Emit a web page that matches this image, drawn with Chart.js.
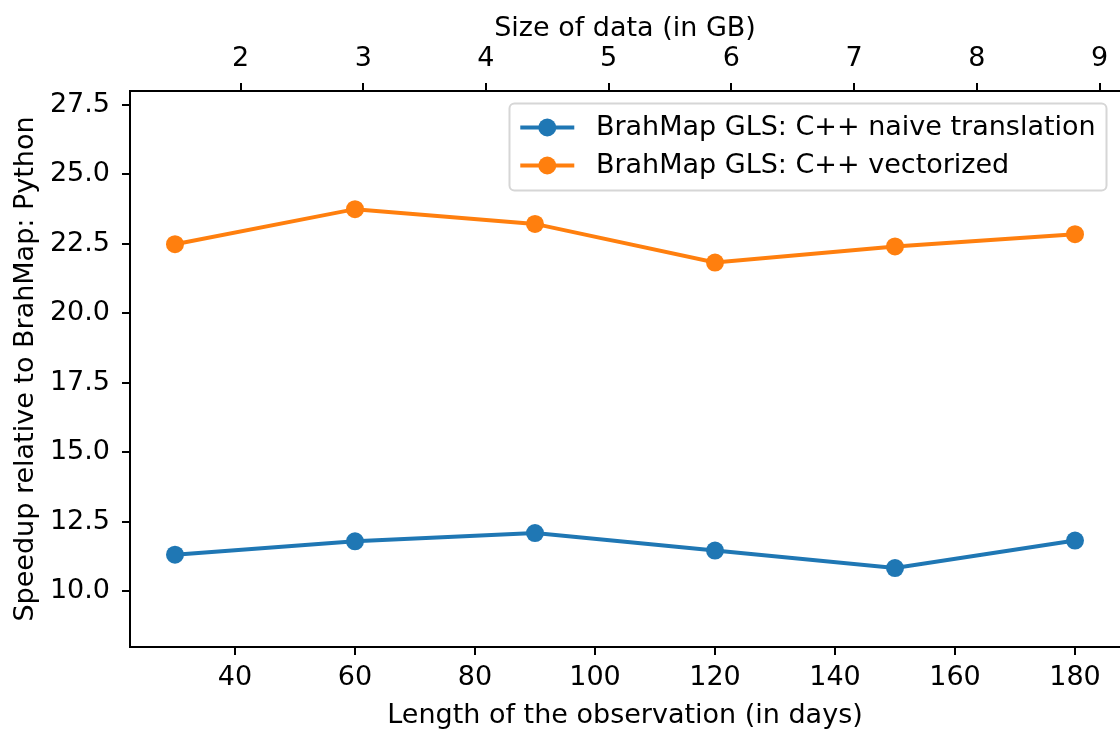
<!DOCTYPE html>
<html>
<head>
<meta charset="utf-8">
<script src="https://cdn.jsdelivr.net/npm/chart.js@4.4.1/dist/chart.umd.min.js"></script>
<style>
  html, body { margin: 0; padding: 0; background: #fff; }
  #wrap { width: 1120px; height: 729px; }
</style>
</head>
<body>
<div id="wrap"><canvas id="speedupChart" width="1120" height="729"></canvas></div>
<script>
// observation length (days) and matching data size (GB)
var days = [30, 60, 90, 120, 150, 180];
var gbSize = [1.466, 2.933, 4.4, 5.866, 7.333, 8.8];
var naiveSpeedup = [11.32, 11.80, 12.10, 11.47, 10.84, 11.83];
var vectorSpeedup = [22.49, 23.75, 23.22, 21.83, 22.41, 22.85];

var dayTicks = [40, 60, 80, 100, 120, 140, 160, 180];
var gbTicks = [2, 3, 4, 5, 6, 7, 8, 9];
var speedTicks = [10, 12.5, 15, 17.5, 20, 22.5, 25, 27.5];

var labels = ['BrahMap GLS: C++ naive translation', 'BrahMap GLS: C++ vectorized'];
var colors = ['#1f77b4', '#ff7f0e'];

var FONT = 'DejaVu Sans';

// matplotlib style 5% margins
function padRange(arr) {
    var lo = Math.min.apply(null, arr), hi = Math.max.apply(null, arr);
    var m = (hi - lo) * 0.05;
    return [lo - m, hi + m];
}
var dayRange = padRange(days);
var gbRange = padRange(gbSize);

function pairs(ys) {
    return days.map(function (d, i) { return {x: d, y: ys[i]}; });
}

function fixTicks(list) {
    return function (scale) {
        scale.ticks = list.map(function (v) { return {value: v}; });
    };
}

// force axis thickness and drop the label overflow padding
function fixSize(prop, size) {
    return function (s) {
        s[prop] = size;
        s.paddingLeft = 0; s.paddingRight = 0;
        s.paddingTop = 0; s.paddingBottom = 0;
    };
}

// legend drawn like matplotlib's, upper right inside the axes
var boxLegend = {
    id: 'boxLegend',
    afterDraw: function (chart) {
        var ctx = chart.ctx, area = chart.chartArea;
        var fs = 27;
        ctx.save();
        ctx.font = fs + 'px "' + FONT + '"';
        var textW = 0;
        labels.forEach(function (l) { textW = Math.max(textW, ctx.measureText(l).width); });
        var w = textW + 0.4 * fs + 2 * fs + 0.8 * fs + 0.4 * fs;
        var h = 87;
        var x = area.right - 0.5 * fs - w;
        var y = area.top + 0.5 * fs - 1;
        ctx.beginPath();
        ctx.roundRect(x, y, w, h, 5);
        ctx.fillStyle = 'rgba(255,255,255,0.8)';
        ctx.fill();
        ctx.strokeStyle = '#d6d6d6';
        ctx.lineWidth = 2;
        ctx.stroke();
        chart.data.datasets.forEach(function (ds, i) {
            var cy = y + 24 + i * 38;
            var hx = x + 0.4 * fs;
            ctx.strokeStyle = ds.borderColor;
            ctx.lineWidth = 4;
            ctx.beginPath();
            ctx.moveTo(hx, cy);
            ctx.lineTo(hx + 2 * fs, cy);
            ctx.stroke();
            ctx.fillStyle = ds.borderColor;
            ctx.beginPath();
            ctx.arc(hx + fs, cy, 9, 0, Math.PI * 2);
            ctx.fill();
            ctx.fillStyle = '#000';
            ctx.textBaseline = 'middle';
            ctx.textAlign = 'left';
            ctx.fillText(ds.label, hx + 2.8 * fs, cy);
        });
        ctx.restore();
    }
};

var tickFont = {family: FONT, size: 27, lineHeight: 1.2};
var titleFont = {family: FONT, size: 27, lineHeight: 1};

var ctx = document.getElementById('speedupChart');
var speedupChart = new Chart(ctx, {
    type: 'line',
    data: {
        datasets: [{
            label: labels[0],
            data: pairs(naiveSpeedup),
            borderColor: colors[0],
            backgroundColor: colors[0],
            pointBackgroundColor: colors[0],
            borderWidth: 4,
            pointRadius: 9,
            pointBorderWidth: 0,
            tension: 0
        }, {
            label: labels[1],
            data: pairs(vectorSpeedup),
            borderColor: colors[1],
            backgroundColor: colors[1],
            pointBackgroundColor: colors[1],
            borderWidth: 4,
            pointRadius: 9,
            pointBorderWidth: 0,
            tension: 0
        }]
    },
    options: {
        responsive: false,
        animation: false,
        devicePixelRatio: 1,
        layout: {padding: 0, autoPadding: false},
        plugins: {
            legend: {display: false},
            tooltip: {enabled: false}
        },
        scales: {
            x: {
                type: 'linear',
                position: 'bottom',
                min: dayRange[0],
                max: dayRange[1],
                afterBuildTicks: fixTicks(dayTicks),
                afterFit: fixSize('height', 82),
                grid: {drawOnChartArea: false, drawTicks: true, tickLength: 8, color: '#000', lineWidth: 2},
                border: {display: true, color: '#000', width: 2},
                ticks: {color: '#000', font: tickFont, padding: 7, maxRotation: 0, autoSkip: false,
                    callback: function (v) { return String(v); }},
                title: {display: true, text: 'Length of the observation (in days)', color: '#000',
                    font: titleFont, padding: 0}
            },
            x2: {
                type: 'linear',
                position: 'top',
                min: gbRange[0],
                max: gbRange[1],
                afterBuildTicks: fixTicks(gbTicks),
                afterFit: fixSize('height', 91),
                grid: {drawOnChartArea: false, drawTicks: true, tickLength: 8, color: '#000', lineWidth: 2},
                border: {display: true, color: '#000', width: 2},
                ticks: {color: '#000', font: tickFont, padding: 8, maxRotation: 0, autoSkip: false,
                    callback: function (v) { return String(v); }},
                title: {display: true, text: 'Size of data (in GB)', color: '#000',
                    font: titleFont, padding: {top: 15, bottom: 0}}
            },
            y: {
                type: 'linear',
                position: 'left',
                min: 8,
                max: 28,
                afterBuildTicks: fixTicks(speedTicks),
                afterFit: fixSize('width', 130),
                grid: {drawOnChartArea: false, drawTicks: true, tickLength: 8, color: '#000', lineWidth: 2},
                border: {display: true, color: '#000', width: 2},
                ticks: {color: '#000', font: tickFont, padding: 12, autoSkip: false,
                    callback: function (v) { return v.toFixed(1); }},
                title: {display: true, text: 'Speedup relative to BrahMap: Python', color: '#000',
                    font: titleFont, padding: {top: 12, bottom: 0}}
            }
        }
    },
    plugins: [boxLegend]
});
</script>
</body>
</html>
